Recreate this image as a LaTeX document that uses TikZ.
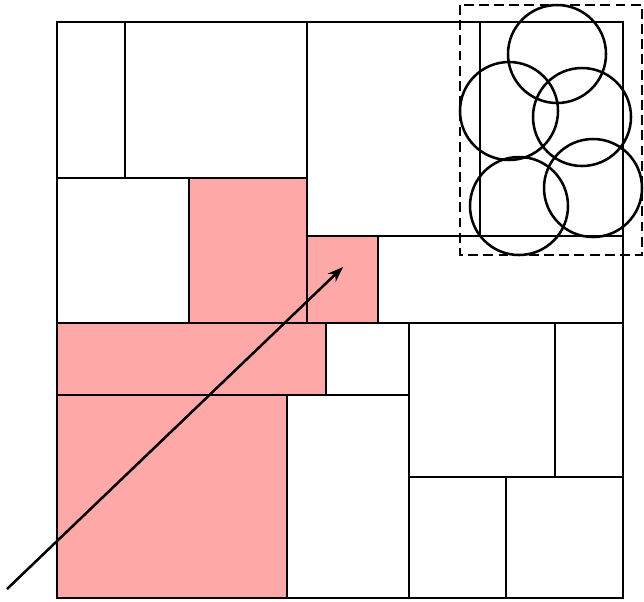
\documentclass[tikz,border=0pt]{standalone}
\usetikzlibrary{arrows.meta}
\definecolor{cellpink}{RGB}{255,168,168}
\tikzset{
  wall/.style={line width=1.9pt, line cap=rect},
  cellfill/.style={fill=cellpink},
  ring/.style={line width=1.8pt},
  probe/.style={line width=1.8pt, dash pattern=on 7pt off 3.8pt},
  ray/.style={line width=1.8pt, -{Stealth[length=11pt, width=8pt, inset=3.5pt]}}
}
\begin{document}
\begin{tikzpicture}[x=0.025cm, y=-0.025cm]
  \useasboundingbox (0,0) rectangle (644,601);

  % highlighted cells
  \fill[cellfill] (189,178) rectangle (307,323);
  \fill[cellfill] (307,236) rectangle (378,323);
  \fill[cellfill] (57,323) rectangle (326,395);
  \fill[cellfill] (57,395) rectangle (287,598);

  % partition lines
  \draw[wall] (57,22) rectangle (623,598);
  \draw[wall] (125,22) -- (125,178);
  \draw[wall] (57,178) -- (307,178);
  \draw[wall] (307,22) -- (307,323);
  \draw[wall] (189,178) -- (189,323);
  \draw[wall] (307,236) -- (623,236);
  \draw[wall] (480,22) -- (480,236);
  \draw[wall] (378,236) -- (378,323);
  \draw[wall] (57,323) -- (623,323);
  \draw[wall] (326,323) -- (326,395);
  \draw[wall] (57,395) -- (409,395);
  \draw[wall] (409,323) -- (409,598);
  \draw[wall] (287,395) -- (287,598);
  \draw[wall] (409,477) -- (623,477);
  \draw[wall] (555,323) -- (555,477);
  \draw[wall] (506,477) -- (506,598);

  % circles in the top-right cell
  \draw[ring] (557,54) circle (49);
  \draw[ring] (509,111) circle (49);
  \draw[ring] (582,117) circle (49);
  \draw[ring] (519,206) circle (49);
  \draw[ring] (593,188) circle (49);

  % query window
  \draw[probe] (460,5) rectangle (642,255);

  % ray
  \coordinate (rayStart) at (7,589);
  \coordinate (rayEnd) at (343,267);
  \draw[ray] (rayStart) -- (rayEnd);
\end{tikzpicture}
\end{document}
